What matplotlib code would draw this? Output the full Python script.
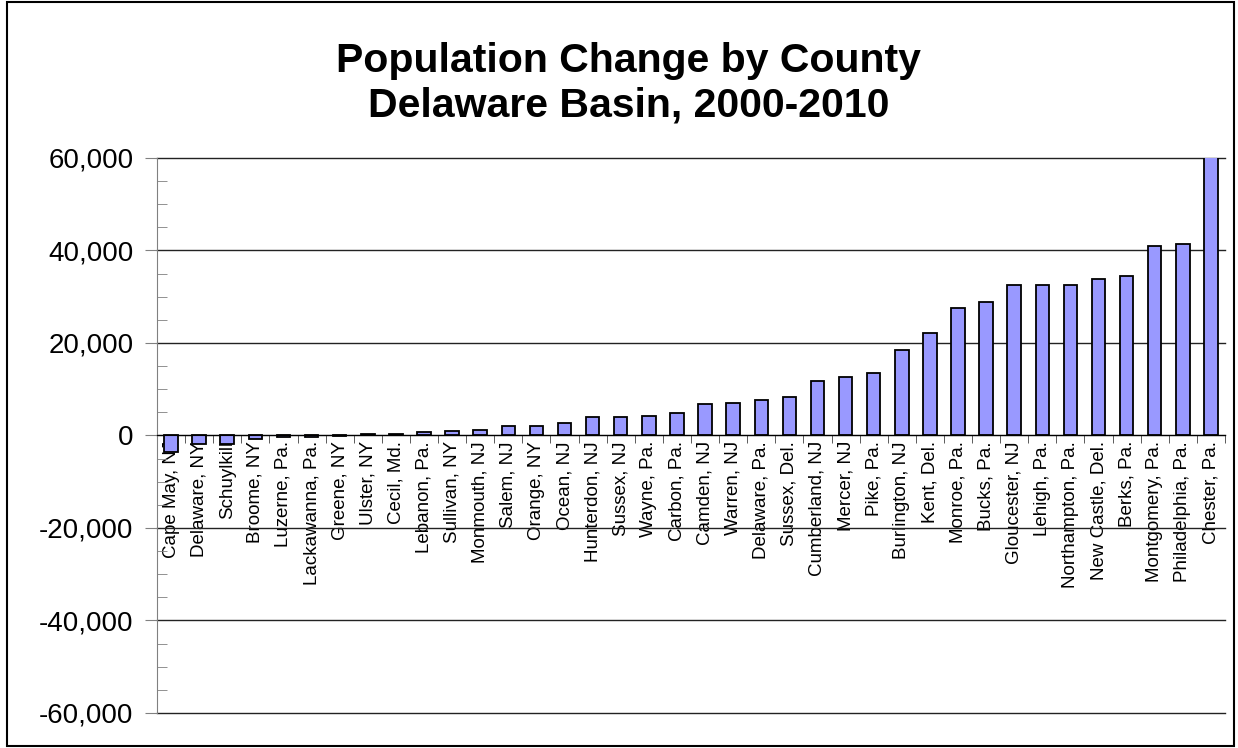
import numpy as np
import matplotlib.pyplot as plt
from matplotlib.patches import Rectangle
from matplotlib.ticker import FuncFormatter, MultipleLocator

plt.rcParams['font.family'] = ['Liberation Sans', 'DejaVu Sans']

# County labels, ordered as in the chart
counties = ["Cape May, NJ", "Delaware, NY", "Schuylkill", "Broome, NY", "Luzerne, Pa.",
            "Lackawanna, Pa.", "Greene, NY", "Ulster, NY", "Cecil, Md.", "Lebanon, Pa.",
            "Sullivan, NY", "Monmouth, NJ", "Salem, NJ", "Orange, NY", "Ocean, NJ",
            "Hunterdon, NJ", "Sussex, NJ", "Wayne, Pa.", "Carbon, Pa.", "Camden, NJ",
            "Warren, NJ", "Delaware, Pa.", "Sussex, Del.", "Cumberland, NJ", "Mercer, NJ",
            "Pike, Pa.", "Burlington, NJ", "Kent, Del.", "Monroe, Pa.", "Bucks, Pa.",
            "Gloucester, NJ", "Lehigh, Pa.", "Northampton, Pa.", "New Castle, Del.",
            "Berks, Pa.", "Montgomery, Pa.", "Philadelphia, Pa.", "Chester, Pa."]

# Population change 2000-2010
change = [-3500, -1900, -1900, -700, -300,
          -300, -50, 350, 350, 650,
          900, 1250, 2150, 2100, 2700,
          3900, 3900, 4250, 4850, 6700,
          7100, 7700, 8400, 11800, 12700,
          13600, 18500, 22200, 27600, 28900,
          32500, 32500, 32500, 33800, 34400,
          41000, 41300, 65000]

y_ticks = [-60000, -40000, -20000, 0, 20000, 40000, 60000]

fig = plt.figure(figsize=(12.38, 7.48), dpi=100)
ax = fig.add_axes([0.1268, 0.0468, 0.8627, 0.742])

x = np.arange(len(counties))
ax.bar(x, change, width=0.48, color='#9999FF', edgecolor='black', linewidth=1.3, zorder=3)

ax.set_xlim(-0.5, len(counties) - 0.5)
ax.set_ylim(y_ticks[0], y_ticks[-1])

# gridlines at major y ticks
ax.set_yticks(y_ticks)
ax.yaxis.set_minor_locator(MultipleLocator(5000))
ax.grid(axis='y', which='major', color='#222222', linewidth=1.0, zorder=1)
for gl in ax.get_ygridlines():
    gl.set_clip_on(False)  # keep the edge lines at +-60,000 fully drawn
ax.yaxis.set_major_formatter(FuncFormatter(lambda v, p: f"{v:,.0f}"))
ax.tick_params(axis='y', which='major', direction='out', length=9, color='#808080',
               labelsize=20, pad=8)
ax.tick_params(axis='y', which='minor', direction='in', length=7, color='#808080')

# x axis sits at zero, ticks between categories
ax.spines['bottom'].set_position(('data', 0))
ax.spines['bottom'].set_color('black')
ax.spines['bottom'].set_zorder(4)
ax.spines['left'].set_color('#808080')
ax.spines['top'].set_visible(False)
ax.spines['right'].set_visible(False)
ax.set_xticks(x)
ax.set_xticklabels(counties, rotation=90, va='top', ha='center')
ax.set_xticks(np.arange(len(counties) + 1) - 0.5, minor=True)
ax.tick_params(axis='x', which='major', length=0, labelsize=13.5, pad=4)
ax.tick_params(axis='x', which='minor', direction='out', length=6, color='#404040')

fig.text(0.508, 0.889, "Population Change by County\nDelaware Basin, 2000-2010",
         ha='center', va='center', fontsize=29.5, fontweight='bold', linespacing=1.2)

# outer chart border
fig.patches.append(Rectangle((0.006, 0.003), 0.991, 0.994, transform=fig.transFigure,
                             fill=False, edgecolor='black', linewidth=1.5))

fig.savefig("out.png", dpi=100)
